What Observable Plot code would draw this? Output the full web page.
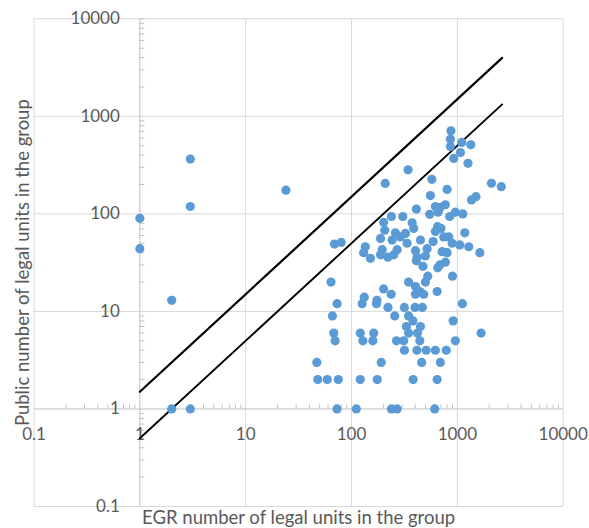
<!DOCTYPE html>
<html>
<head>
<meta charset="utf-8">
<script src="https://cdn.jsdelivr.net/npm/d3@7"></script>
<script src="https://cdn.jsdelivr.net/npm/@observablehq/plot@0.6"></script>
<style>
  html, body { margin: 0; padding: 0; background: #fff; }
  svg { display: block; }
</style>
</head>
<body>
<div id="chart"></div>
<script>
// EGR number of legal units (x) and public number of legal units (y)
const egr = [
  1, 1, 2, 3, 3, 24, 2, 3,
  69, 80, 64, 73, 66, 68, 70, 47,
  48, 59, 75, 121, 175, 382, 644,
  73, 111, 238, 270, 611,
  132, 126, 174, 172, 201, 237, 221, 316, 256, 346, 402, 442, 402, 481, 499, 525, 473, 410, 652, 683, 770, 899, 644,
  398, 467, 346, 380, 330, 448, 346, 420, 442, 266, 311, 316, 415, 508, 620, 786, 913, 957, 1116, 1675, 121, 128, 162, 159, 191, 460, 691,
  870, 860, 860, 1100, 1340, 1070, 925, 1260, 342, 208, 574, 800, 556, 2100, 2600, 1360, 1500, 410, 620, 691, 770, 658, 548, 847, 957, 1125,
  238, 305, 201, 374, 206, 387, 650, 700, 743, 1175, 829, 188, 260, 290, 323, 448, 590, 335, 242, 135, 195, 251, 270, 402, 1054, 1282, 1630,
  800, 718, 130, 151, 188, 220, 417, 499, 518, 620, 893
];
const pub = [
  90, 44, 13, 365, 119, 175, 1, 1,
  49, 51, 20, 12, 9, 6, 5, 3,
  2, 2, 2, 2, 2, 2, 2,
  1, 1, 1, 1, 1,
  14, 12, 13, 12, 17, 15, 11, 11, 9, 20, 18, 16, 15, 15, 20, 23, 29, 33, 28, 30, 32, 23, 16,
  11, 11, 9, 8, 7, 7, 6, 6, 5, 5, 5, 4, 4, 4, 4, 4, 8, 5, 12, 6, 6, 5, 6, 5, 3, 3, 3,
  710, 585, 490, 540, 510, 425, 370, 330, 283, 205, 226, 178, 154, 206, 190, 139, 150, 112, 119, 117, 124, 104, 99, 94, 104, 100,
  94, 94, 82, 81, 68, 71, 74, 71, 58, 64, 58, 56, 64, 58, 63, 54, 52, 50, 54, 46, 43, 38, 43, 42, 48, 46, 40,
  40, 41, 40, 35, 38, 36, 36, 37, 44, 66, 50
];

// Reference lines (y = 1.5x and y = 0.5x)
const lineX = [1, 2650];
const upperY = [1.5, 3975];
const lowerY = [0.5, 1325];

// Axis ticks
const majorTicks = [0.1, 1, 10, 100, 1000, 10000];
const tickLabels = ["0.1", "1", "10", "100", "1000", "10000"];
const minorTicks = [];
for (const p of [0.1, 1, 10, 100, 1000]) for (let k = 2; k <= 9; k++) minorTicks.push(+(k * p).toPrecision(3));

const points = egr.map((x, i) => ({x, y: pub[i]}));
const upper = lineX.map((x, i) => ({x, y: upperY[i]}));
const lower = lineX.map((x, i) => ({x, y: lowerY[i]}));
const ticks = majorTicks.map((v, i) => ({v, label: tickLabels[i]}));

const chart = Plot.plot({
  width: 589,
  height: 528,
  marginLeft: 33.5,
  marginRight: 26.3,
  marginTop: 18.3,
  marginBottom: 22,
  x: {type: "log", domain: [0.1, 10000], axis: null},
  y: {type: "log", domain: [0.1, 10000], axis: null},
  style: {fontFamily: "Lato, 'Open Sans', sans-serif", fontSize: "17px", color: "#595959", background: "#fff"},
  marks: [
    Plot.ruleX(majorTicks.filter(d => d !== 1), {x: d => d, stroke: "#d9d9d9", strokeWidth: 1}),
    Plot.ruleY(majorTicks.filter(d => d !== 1), {y: d => d, stroke: "#d9d9d9", strokeWidth: 1}),
    Plot.ruleX([1], {x: d => d, stroke: "#bfbfbf", strokeWidth: 1}),
    Plot.ruleY([1], {y: d => d, stroke: "#bfbfbf", strokeWidth: 1}),
    Plot.ruleX(minorTicks, {x: d => d, y1: () => 1, y2: () => 1, insetTop: -4, stroke: "#bfbfbf"}),
    Plot.ruleY(minorTicks.concat([10000]), {y: d => d, x1: () => 1, x2: () => 1, insetRight: -5, stroke: "#bfbfbf"}),
    Plot.text(ticks, {x: d => d.v, y: () => 1, text: "label", dy: 26, lineAnchor: "middle", textAnchor: "middle", fill: "#595959"}),
    Plot.text(ticks, {x: () => 1, y: d => d.v, text: "label", dx: -20, lineAnchor: "middle", textAnchor: "end", fill: "#595959"}),
    Plot.line(upper, {x: "x", y: "y", stroke: "#000", strokeWidth: 2.2}),
    Plot.line(lower, {x: "x", y: "y", stroke: "#000", strokeWidth: 1.9}),
    Plot.dot(points, {x: "x", y: "y", r: 4.6, fill: "#5B9BD5", stroke: "none"}),
    Plot.text(["EGR number of legal units in the group"], {text: d => d, frameAnchor: "bottom", dy: 17.5, lineAnchor: "bottom", fontSize: 18.5, fill: "#595959"}),
    Plot.text(["Public number of legal units in the group"], {text: d => d, frameAnchor: "left", dx: -5, rotate: -90, lineAnchor: "bottom", textAnchor: "middle", fontSize: 18.5, fill: "#595959"})
  ]
});
document.getElementById("chart").appendChild(chart);
</script>
</body>
</html>
